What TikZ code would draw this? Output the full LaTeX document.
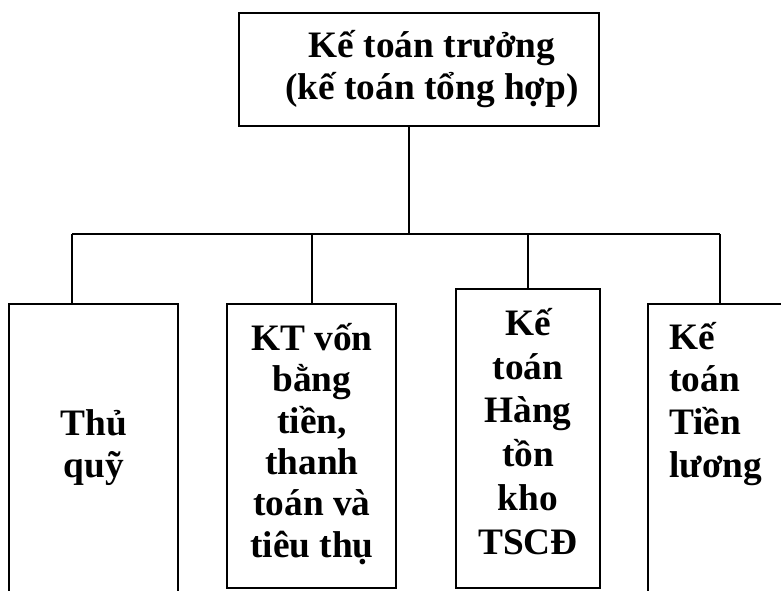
\documentclass[tikz,border=0pt]{standalone}
\usepackage{fontspec}
\setmainfont{Liberation Serif}
\begin{document}
\begin{tikzpicture}[x=0.75pt,y=-0.75pt,
  box/.style={draw,line width=1.8pt,inner sep=0pt,outer sep=0pt},
  lbl/.style={inner sep=0pt,align=center,
    font=\bfseries\fontsize{28}{31}\selectfont},
  wire/.style={line width=1.8pt}]
\useasboundingbox (0,0) rectangle (781,590);
\clip (0,0) rectangle (781,590);

% boxes
\node[box,minimum width=270pt,minimum height=84.75pt] (top) at (419,69.5) {};
\node[box,minimum width=126.75pt,minimum height=259.5pt] (b1) at (93.5,477) {};
\node[box,minimum width=126.75pt,minimum height=213pt] (b2) at (311.5,446) {};
\node[box,minimum width=108pt,minimum height=224.25pt] (b3) at (528,438.5) {};
\node[box,minimum width=144pt,minimum height=259.5pt] (b4) at (744,477) {};

% texts (anchored at the baseline of their last line)
\node[lbl,anchor=base] (ttop) at (432,99) {Kế toán trưởng\\(kế toán tổng hợp)};
\node[lbl,anchor=base] (t1) at (94,477) {Thủ\\quỹ};
\node[lbl,anchor=base] (t2) at (312,557) {KT vốn\\bằng\\tiền,\\thanh\\toán và\\tiêu thụ};
\node[lbl,anchor=base,font=\bfseries\fontsize{28}{32.8}\selectfont] (t3) at (528,554) {Kế\\toán\\Hàng\\tồn\\kho\\TSCĐ};
\node[lbl,anchor=base west,align=left,font=\bfseries\fontsize{28}{32}\selectfont] (t4) at (669,477) {Kế\\toán\\Tiền\\lương};

% connectors
\coordinate (trunk) at (409,234);
\coordinate (s1) at (72,234);
\coordinate (s2) at (312,234);
\coordinate (s3) at (528,234);
\coordinate (s4) at (720,234);
\draw[wire] (trunk |- top.south) -- (trunk);
\draw[wire] (s1) -- (s4);
\draw[wire] (s1) -- (s1 |- b1.north);
\draw[wire] (s2) -- (s2 |- b2.north);
\draw[wire] (s3) -- (s3 |- b3.north);
\draw[wire] (s4) -- (s4 |- b4.north);
\end{tikzpicture}
\end{document}
